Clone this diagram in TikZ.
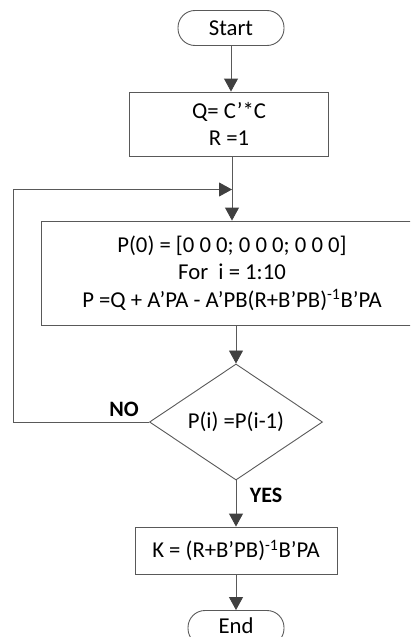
\documentclass[tikz,border=0pt]{standalone}
\usepackage{fontspec}
\setmainfont{Carlito}
\usetikzlibrary{arrows.meta,shapes.geometric}
\definecolor{ln}{RGB}{89,89,89}
\definecolor{ah}{RGB}{64,64,64}
\begin{document}
\begin{tikzpicture}[x=1pt,y=-1pt,
  box/.style={draw=ln,line width=0.9pt,inner sep=0pt,align=center,font=\fontsize{22.7}{27.5}\selectfont},
  term/.style={box,rounded corners=17pt},
  arr/.style={draw=ln,line width=0.9pt,-{Triangle[length=13pt,width=14pt,color=ah]}},
  lbl/.style={font=\fontsize{22}{27}\selectfont\bfseries}]
\useasboundingbox (0,0) rectangle (410,637);
\clip (0,0) rectangle (410,637);
\node[term,minimum width=106pt,minimum height=35pt] (start) at (231,28) {Start};
\node[box,minimum width=199pt,minimum height=64pt] (q) at (229,124) {Q= C’*C\\R =1};
\node[box,minimum width=382pt,minimum height=104pt] (big) at (232,273)
  {P(0) = [0 0 0; 0 0 0; 0 0 0]\\For~ i = 1:10\\P =Q + A’PA - A’PB(R+B’PB)\textsuperscript{-1}B’PA};
\node[box,shape=diamond,minimum width=173pt,minimum height=101pt] (dia) at (236,422) {P(i) =P(i-1)};
\node[box,minimum width=202pt,minimum height=47pt] (k) at (236,550.5) {K = (R+B’PB)\textsuperscript{-1}B’PA};
\node[term,minimum width=96pt,minimum height=35pt] (end) at (236,628) {\raisebox{5pt}{End}};
\coordinate (loopL) at (13,189.5);
\coordinate (join) at (232,189.5);
\node[lbl] (no) at (124,409) {NO};
\node[lbl] (yes) at (266,495) {YES};
\draw[arr] (start.south) -- (start.south |- q.north);
\draw[arr] (q.south -| big.north) -- (big.north);
\draw[arr] (big.south -| dia.north) -- (dia.north);
\draw[arr] (dia.south) -- (dia.south |- k.north);
\draw[arr] (k.south -| end.north) -- (end.north);
\draw[arr] (dia.west) -- (dia.west -| loopL) -- (loopL) -- (join);
\end{tikzpicture}
\end{document}
